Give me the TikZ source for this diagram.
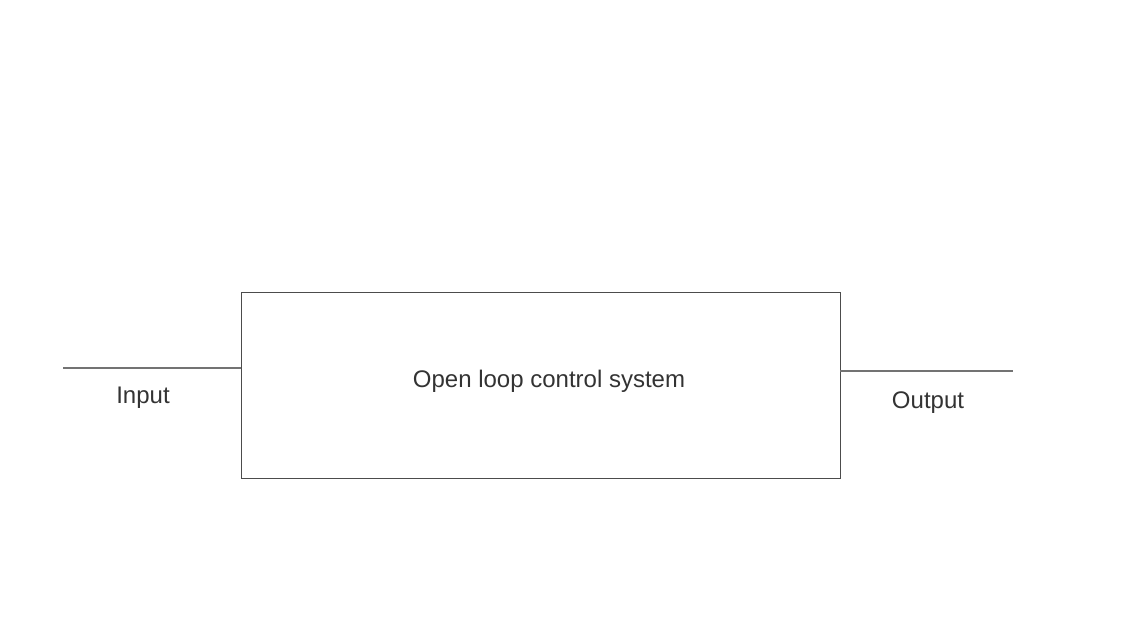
\documentclass[tikz,border=0pt]{standalone}
\usepackage{fontspec}
\setmainfont{Liberation Sans}
\usepackage{tikz}

\begin{document}
\begin{tikzpicture}[x=1pt,y=-1pt,
  block/.style={draw=black!70,line width=0.9pt,minimum width=599pt,minimum height=186pt,inner sep=0pt},
  label node/.style={text=black!80,font=\fontsize{24pt}{28pt}\selectfont,inner sep=0pt},
  signal/.style={draw=black!55,line width=1.3pt}]
  \useasboundingbox (0,0) rectangle (1123,630);
  \node[block] (box) at (540.5,385) {};
  \node[label node] (sys) at (549,381) {Open loop control system};
  \coordinate (in) at (63,368);
  \coordinate (out) at (1013,371);
  \node[label node] (inlabel) at (143,398) {Input};
  \node[label node] (outlabel) at (928,403) {Output};
  \path[signal]
    (in) edge (in -| box.west)
    (box.east |- out) edge (out);
\end{tikzpicture}
\end{document}
